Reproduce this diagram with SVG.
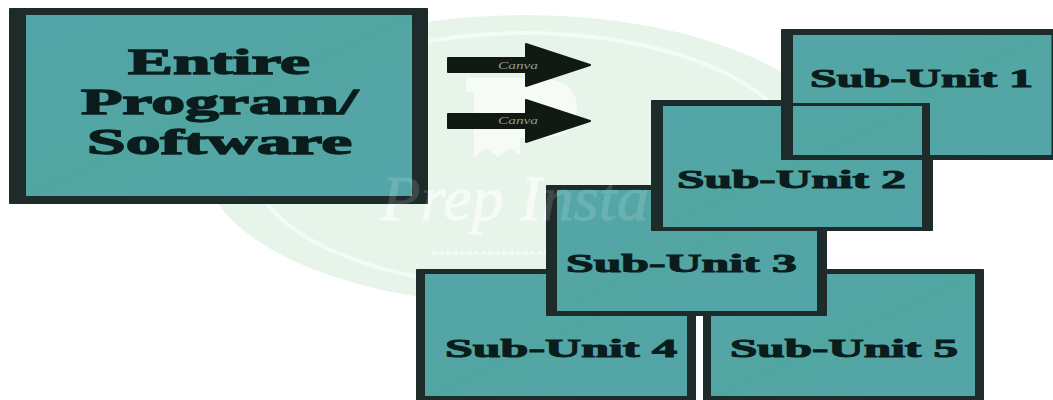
<svg xmlns="http://www.w3.org/2000/svg" width="1053" height="400" viewBox="0 0 1053 400">
<defs>
<linearGradient id="teal" x1="0" y1="0" x2="1" y2="1">
<stop offset="0" stop-color="#54a5a9"/>
<stop offset=".5" stop-color="#52a6a2"/>
<stop offset="1" stop-color="#54a5a9"/>
</linearGradient>
<text id="prepinsta" class="mark" x="515" y="220" font-size="64" stroke="#f6fbf7" stroke-width=".8" text-anchor="middle" textLength="268" lengthAdjust="spacingAndGlyphs">Prep Insta</text>
</defs>
<style>
.box{fill:url(#teal)}
.frame{fill:#1e2b2b;fill-rule:evenodd;stroke:#1e2b2b;stroke-width:1;stroke-linejoin:round}
.lbl{font-family:"Liberation Serif","DejaVu Serif",serif;font-weight:700;fill:#0a1c1c;stroke:#0a1c1c;text-anchor:middle}
.sm{font-size:25px;stroke-width:1}
.lg{font-size:35px;stroke-width:1.3}
.arrow{fill:#111a12;stroke:#111a12;stroke-width:2;stroke-linejoin:round}
.canva{font-family:"Liberation Serif",serif;font-style:italic;font-size:10px;fill:#9c9c94;text-anchor:middle}
.mark{font-family:"Liberation Serif",serif;font-style:italic;fill:#f6fbf7}
</style>
<rect width="1053" height="400" fill="#fff"/>
<g id="watermark">
<ellipse cx="525" cy="160" rx="322" ry="145" fill="#e6f4ea"/>
<ellipse cx="525" cy="160" rx="275" ry="127" fill="none" stroke="#f4faf5" stroke-width="4"/>
<path d="M466 78H540Q577 80 577 108T545 138H520V155L510 148 498 157 486 148 474 157V92H466Z" fill="#f6fbf7"/>
<use href="#prepinsta"/>
<path d="M432 253H600" stroke="#f6fbf7" stroke-width="3" stroke-dasharray="5 2" fill="none"/>
</g>
<g id="connectors">
<path class="arrow" d="M448 58H526V44L590 65 526 86V72H448Z"/>
<path class="arrow" d="M448 114H526V100L590 121 526 142V128H448Z"/>
<text class="canva" x="518" y="69" textLength="40" lengthAdjust="spacingAndGlyphs">Canva</text>
<text class="canva" x="518" y="124" textLength="40" lengthAdjust="spacingAndGlyphs">Canva</text>
</g>
<g id="entire">
<rect class="box" x="20" y="12" width="398" height="188"/>
<path class="frame" d="M9.500 8.500H427.500V203.500H9.500ZM25.500 14.500V196.500H412.500V14.500Z"/>
<text class="lbl lg" x="219" y="74" textLength="182" lengthAdjust="spacingAndGlyphs">Entire</text>
<text class="lbl lg" x="219.500" y="114" textLength="277" lengthAdjust="spacingAndGlyphs">Program/</text>
<text class="lbl lg" x="219.500" y="154" textLength="265" lengthAdjust="spacingAndGlyphs">Software</text>
</g>
<g id="sub-unit-4">
<rect class="box" x="420" y="272" width="272" height="128"/>
<path class="frame" d="M416.500 269.500H695.500V400.500H416.500ZM424.500 273.500V396.500H687.500V273.500Z"/>
<text class="lbl sm" x="561" y="357" textLength="232" lengthAdjust="spacingAndGlyphs">Sub-Unit 4</text>
</g>
<g id="sub-unit-5">
<rect class="box" x="707" y="272" width="272" height="128"/>
<path class="frame" d="M703.500 269.500H983.500V400.500H703.500ZM710.500 273.500V396.500H975.500V273.500Z"/>
<text class="lbl sm" x="844" y="357" textLength="228" lengthAdjust="spacingAndGlyphs">Sub-Unit 5</text>
</g>
<g id="sub-unit-3">
<rect class="box" x="552" y="188" width="270" height="125"/>
<path class="frame" d="M546.500 185.500H826.500V315.500H546.500ZM556.500 189.500V311.500H817.500V189.500Z"/>
<text class="lbl sm" x="681.500" y="272" textLength="231" lengthAdjust="spacingAndGlyphs">Sub-Unit 3</text>
</g>
<use id="watermark-over-boxes" href="#prepinsta" opacity=".14"/>
<g id="sub-unit-2">
<rect class="box" x="657" y="103" width="270" height="126"/>
<path class="frame" d="M651.500 100.500H932.500V230.500H651.500ZM662.500 105.500V227.500H922.500V105.500Z"/>
<text class="lbl sm" x="791.500" y="188" textLength="229" lengthAdjust="spacingAndGlyphs">Sub-Unit 2</text>
</g>
<g id="sub-unit-1">
<path class="box" d="M787 32H1053V158H930V103H787Z"/>
<path class="frame" d="M781.500 29.500H1053.500V159.500H781.500ZM792.500 34.500V155.500H1052V34.500Z"/>
<text class="lbl sm" x="921.500" y="87" textLength="223" lengthAdjust="spacingAndGlyphs">Sub-Unit 1</text>
</g>
</svg>
